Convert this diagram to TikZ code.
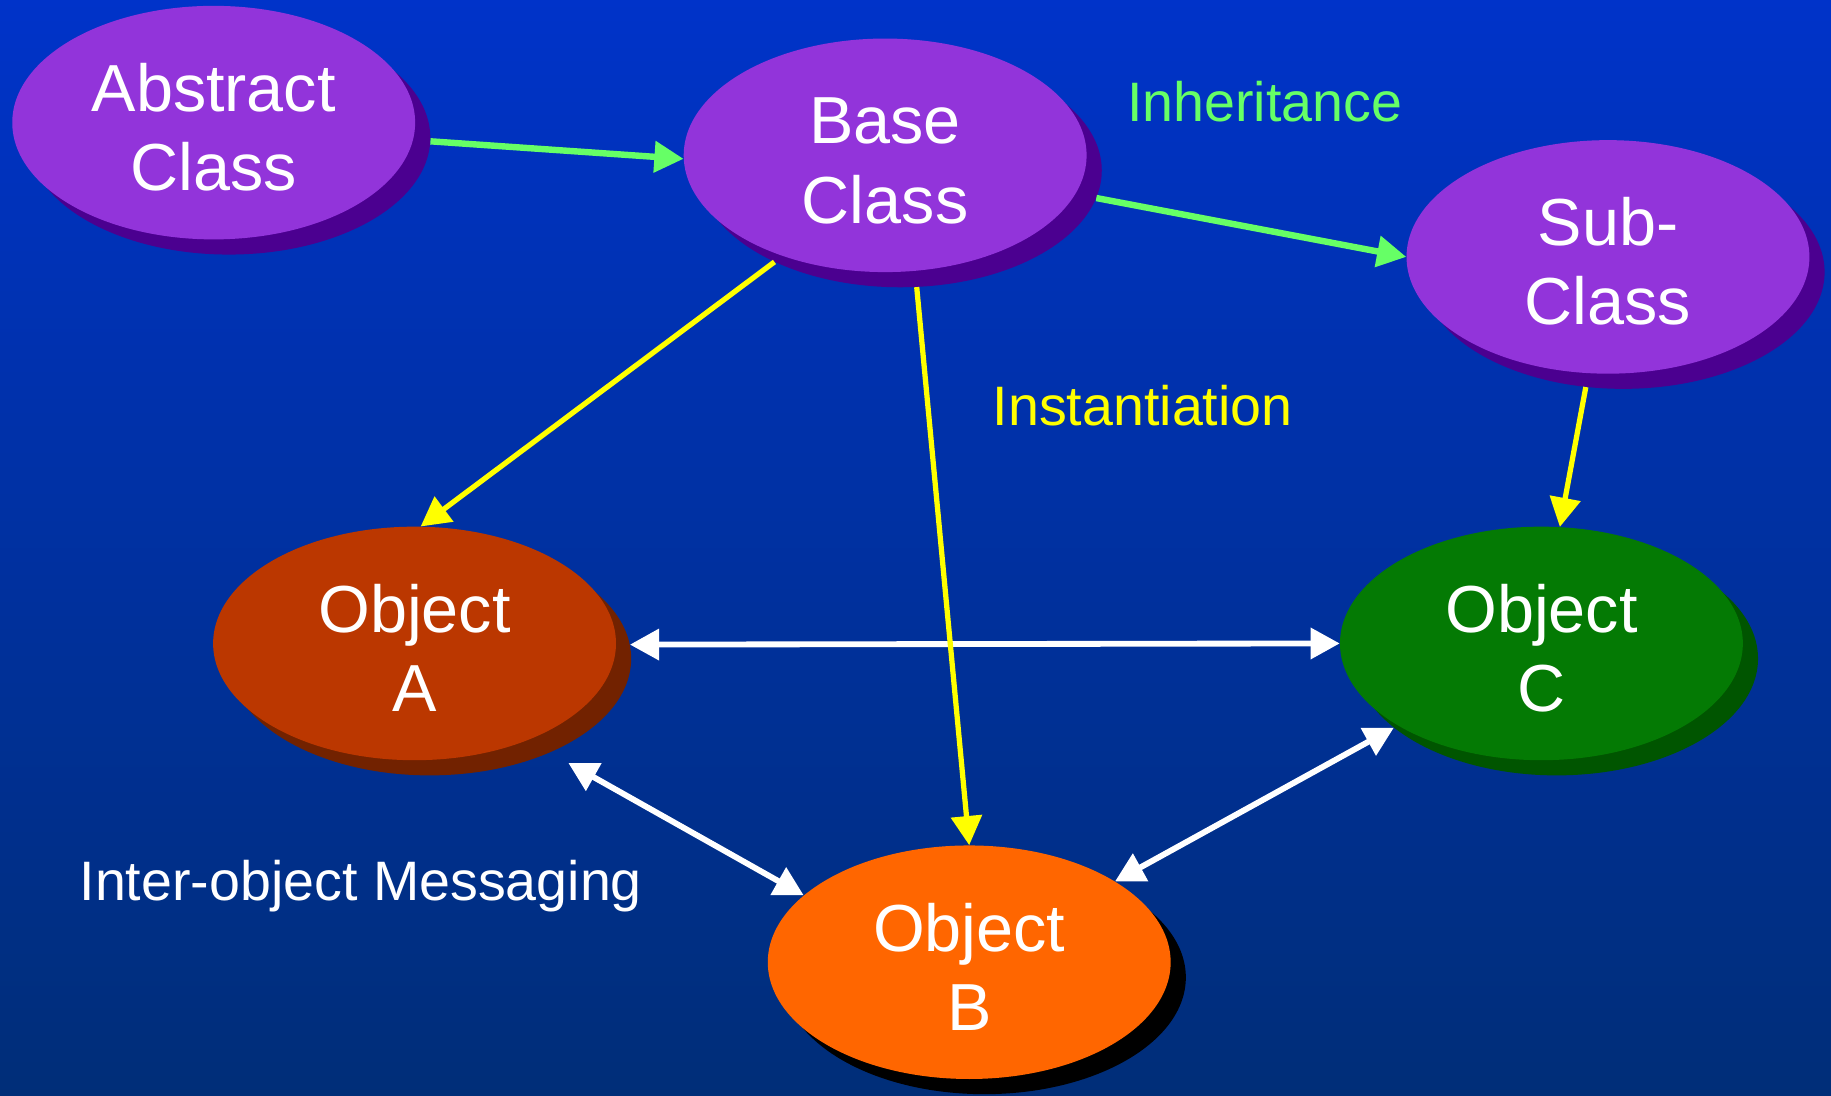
\documentclass[tikz,border=0pt]{standalone}
\usepackage{fontspec}
\setmainfont{Liberation Sans}
\usetikzlibrary{shapes.geometric,arrows.meta}

\definecolor{bgtop}{HTML}{0033C9}
\definecolor{bgbot}{HTML}{002E78}
\definecolor{classfill}{HTML}{9234DA}
\definecolor{classshade}{HTML}{4B0090}
\definecolor{afill}{HTML}{BB3700}
\definecolor{ashade}{HTML}{722200}
\definecolor{bfill}{HTML}{FF6600}
\definecolor{cfill}{HTML}{047A04}
\definecolor{cshade}{HTML}{005500}
\definecolor{inhgreen}{HTML}{66FF66}
\definecolor{instyellow}{HTML}{FFFF00}

% taller first line, so the two-line label sits a little lower in its oval
\newcommand{\ovalstrut}{\rule{0pt}{49pt}}

\begin{document}
\begin{tikzpicture}[x=1pt,y=-1pt,
  oval/.style={ellipse, minimum width=345pt, minimum height=200pt, inner sep=0pt,
    text=white, align=center, font=\fontsize{57}{68}\selectfont},
  ovalshadow/.style={ellipse, minimum width=345pt, minimum height=200pt, inner sep=0pt},
  tip/.style={-{Triangle[length=25pt,width=26pt]}},
  inherit/.style={draw=inhgreen, line width=5.5pt, tip},
  instance/.style={draw=instyellow, line width=4.5pt, tip},
  message/.style={draw=white, line width=5pt,
    {Triangle[length=25pt,width=26pt]}-{Triangle[length=25pt,width=26pt]}},
  caption/.style={anchor=base west, inner sep=0pt, font=\fontsize{47.6}{56}\selectfont}]

% background
\shade[top color=bgtop, bottom color=bgbot] (0,0) rectangle (1568,938);
\useasboundingbox (0,0) rectangle (1568,938);

% drop shadows
\node[ovalshadow, fill=classshade] (absS)  at (196,118) {};
\node[ovalshadow, fill=classshade] (baseS) at (771,146) {};
\node[ovalshadow, fill=classshade] (subS)  at (1390,233) {};
\node[ovalshadow, fill=ashade]     (objAS) at (368,564) {};
\node[ovalshadow, fill=black]      (objBS) at (843,837) {};
\node[ovalshadow, fill=cshade]     (objCS) at (1333,564) {};

% classes and objects
\node[oval, fill=classfill] (abs)  at (183,105)  {\ovalstrut Abstract\\Class};
\node[oval, fill=classfill] (base) at (758,133)  {\ovalstrut Base\\Class};
\node[oval, fill=classfill] (sub)  at (1377,220) {\ovalstrut Sub-\\Class};
\node[oval, fill=afill]     (objA) at (355,551)  {\ovalstrut Object\\A};
\node[oval, fill=bfill]     (objB) at (830,824)  {\ovalstrut Object\\B};
\node[oval, fill=cfill]     (objC) at (1320,551) {\ovalstrut Object\\C};

% messaging between objects
\draw[message] (objAS.4) -- (objC.180);
\draw[message, shorten <=18pt] (objAS.-38) -- (objB.158);
\draw[message] (objCS.203) -- (objB.29);

% instantiation
\draw[instance] (baseS.216) -- (objA.87);
\draw[instance] (baseS.278) -- (objB.90);
\draw[instance] (subS.252) -- (objC.81);

% inheritance
\draw[inherit] (absS.-1) -- (base.181);
\draw[inherit] (baseS.-8) -- (sub.180);

% captions
\node[caption, text=inhgreen]   (inhlabel)  at (965,104)  {Inheritance};
\node[caption, text=instyellow] (instlabel) at (850,364)  {Instantiation};
\node[caption, text=white]      (msglabel)  at (68,771)   {Inter-object Messaging};
\end{tikzpicture}
\end{document}
